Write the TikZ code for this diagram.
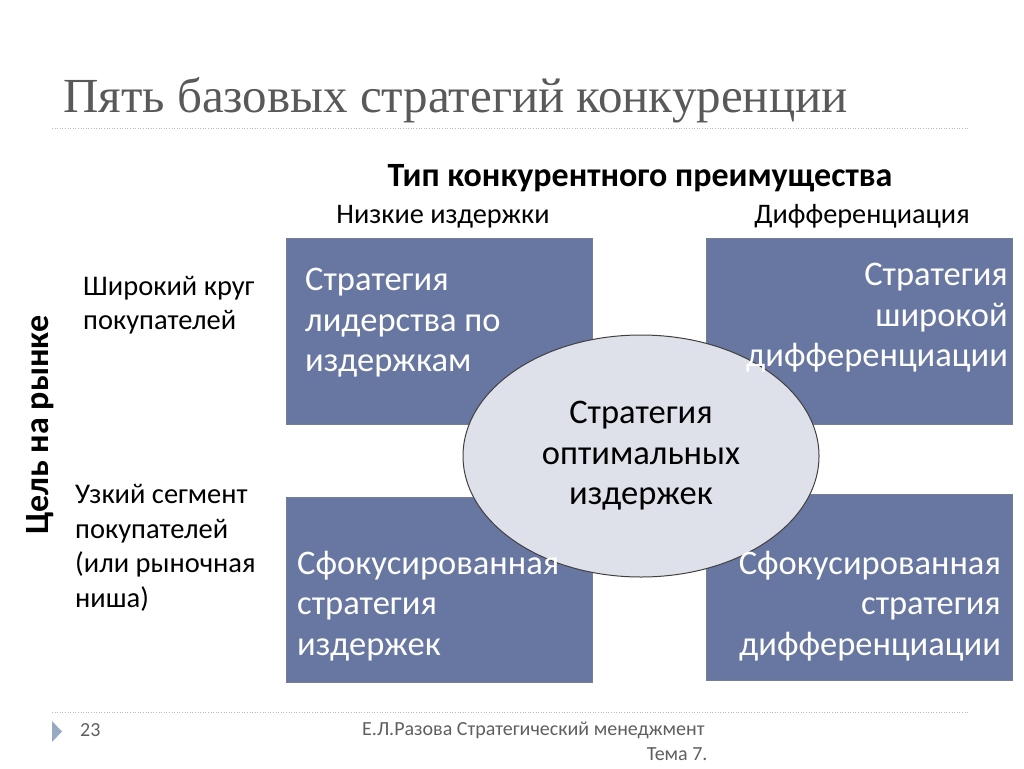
\documentclass[tikz,border=0pt]{standalone}
\usepackage{fontspec}
\setmainfont{Carlito}
\newfontfamily\titlefont{Liberation Serif}
\usetikzlibrary{shapes.geometric}

\definecolor{boxblue}{RGB}{104,119,161}
\definecolor{boxedge}{RGB}{118,126,148}
\definecolor{ovalfill}{RGB}{222,225,233}
\definecolor{ovaledge}{RGB}{64,64,64}
\definecolor{titlegray}{RGB}{89,89,89}
\definecolor{rulegray}{RGB}{185,185,185}
\definecolor{footgray}{RGB}{95,95,95}
\definecolor{markblue}{RGB}{150,170,196}

\tikzset{
    stratbox/.style={draw=boxedge, fill=boxblue, line width=1pt, minimum width=306pt, minimum height=186pt, inner sep=0pt},
    strattext/.style={text=white, font=\fontsize{34.5}{40.5}\selectfont, inner sep=0pt},
    sidetext/.style={font=\fontsize{28.5}{34.5}\selectfont, align=left, anchor=west, inner sep=0pt},
    headtext/.style={font=\fontsize{28.3}{32}\selectfont, inner sep=0pt, anchor=base},
    foottext/.style={font=\fontsize{20}{24}\selectfont, text=footgray, inner sep=0pt},
    dotrule/.style={rulegray, line width=0.8pt, dash pattern=on 1pt off 1.6pt}
}

\begin{document}
\begin{tikzpicture}[x=1pt, y=-1pt]
    \useasboundingbox (0, 0) rectangle (1024, 768);

    % title and rules
    \node[anchor=west, inner sep=0pt, text=titlegray, font=\titlefont\fontsize{49}{55}\selectfont] (title) at (63, 100) {Пять базовых стратегий конкуренции};
    \draw[dotrule] (52, 128) -- (968, 128);
    \draw[dotrule] (52, 712) -- (968, 712);

    % axis headings
    \node[inner sep=0pt, font=\bfseries\fontsize{34}{38}\selectfont] (axis) at (640, 178) {Тип конкурентного преимущества};
    \node[headtext] (low) at (443, 223) {Низкие издержки};
    \node[headtext] (diff) at (862, 223) {Дифференциация};
    \node[inner sep=0pt, rotate=90, font=\bfseries\fontsize{34}{38}\selectfont] (target) at (40, 425) {Цель на рынке};
    \node[sidetext] (broad) at (83, 305) {Широкий круг\\покупателей};
    \node[sidetext] (narrow) at (75, 548) {Узкий сегмент\\покупателей\\(или рыночная\\ниша)};

    % boxes
    \node[stratbox] (tl) at (439, 331) {};
    \node[stratbox] (tr) at (859, 331) {};
    \node[stratbox, minimum height=185pt] (bl) at (439, 589.5) {};
    \node[stratbox] (br) at (859, 587) {};

    % middle
    \node[ellipse, draw=ovaledge, fill=ovalfill, line width=1pt, minimum width=356pt, minimum height=242pt, inner sep=0pt,
          align=center, font=\fontsize{34.5}{40.5}\selectfont] (best) at (641, 456) {Стратегия\\оптимальных\\издержек};

    % box texts over the ellipse
    \node[strattext, align=left, anchor=west] (tltext) at (305, 323) {Стратегия\\лидерства по\\издержкам};
    \node[strattext, align=right, anchor=east] (trtext) at (1008, 318) {Стратегия\\широкой\\дифференциации};
    \node[strattext, align=left, anchor=west] (bltext) at (297, 606) {Сфокусированная\\стратегия\\издержек};
    \node[strattext, align=right, anchor=east] (brtext) at (1001, 606) {Сфокусированная\\стратегия\\дифференциации};

    % footer
    \fill[markblue] (52, 721) -- (62, 731.5) -- (52, 742) -- cycle;
    \node[foottext, anchor=west] (page) at (80, 730) {23};
    \node[foottext, anchor=west] (author) at (362, 730) {Е.Л.Разова Стратегический менеджмент};
    \node[foottext, anchor=east] (topic) at ([xshift=3pt]author.east |- 0, 754) {Тема 7.};
\end{tikzpicture}
\end{document}
